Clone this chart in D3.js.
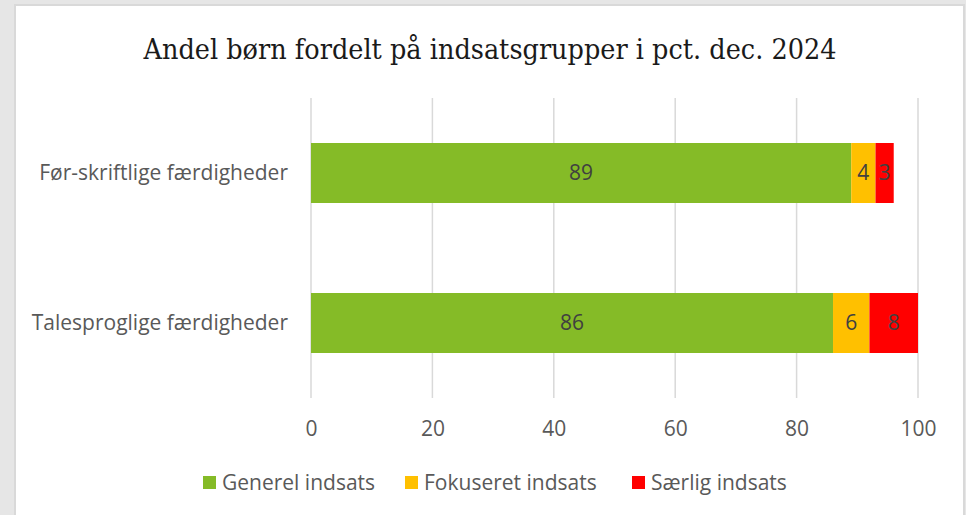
<!DOCTYPE html>
<html>
<head>
<meta charset="utf-8">
<script src="https://cdn.jsdelivr.net/npm/d3@7"></script>
<style>
  body { margin: 0; background: #e6e6e6; }
  svg { display: block; }
</style>
</head>
<body>
<svg id="chart" width="966" height="515"></svg>
<script>
var categories = ["Før-skriftlige færdigheder", "Talesproglige færdigheder"];
var seriesNames = ["Generel indsats", "Fokuseret indsats", "Særlig indsats"];
var seriesColors = ["#85bb27", "#ffc000", "#ff0000"];
var generel = [89, 86];
var fokuseret = [4, 6];
var saerlig = [3, 8];
var xTicks = [0, 20, 40, 60, 80, 100];

var W = 966, H = 515;
var FONT = "Open Sans";
var svg = d3.select("#chart");

// panel with a light border, as in the screenshot
svg.append("rect").attr("x", 14).attr("y", 4).attr("width", 951).attr("height", 520)
  .attr("fill", "#d9d9d9");
svg.append("rect").attr("x", 16).attr("y", 6).attr("width", 947).attr("height", 520)
  .attr("fill", "white");

var margin = {left: 311, right: 48, top: 98, bottom: 117};
var x = d3.scaleLinear().domain([0, 100]).range([margin.left, 918]);
var y = d3.scaleBand().domain(categories).range([margin.top, H - margin.bottom])
  .paddingInner(0.6).paddingOuter(0.3);

var rows = categories.map(function(c, i) {
  return {cat: c, "Generel indsats": generel[i], "Fokuseret indsats": fokuseret[i], "Særlig indsats": saerlig[i]};
});
var stack = d3.stack().keys(seriesNames)(rows);
var color = d3.scaleOrdinal().domain(seriesNames).range(seriesColors);

// title
svg.append("text")
  .attr("x", 490).attr("y", 59)
  .attr("text-anchor", "middle")
  .attr("font-family", "DejaVu Serif")
  .attr("font-size", 28)
  .attr("textLength", 693)
  .attr("lengthAdjust", "spacingAndGlyphs")
  .attr("fill", "#1a1a1a")
  .text("Andel børn fordelt på indsatsgrupper i pct. dec. 2024");

// gridlines
svg.append("g").selectAll("line").data(xTicks).enter().append("line")
  .attr("x1", function(d) { return x(d); })
  .attr("x2", function(d) { return x(d); })
  .attr("y1", margin.top).attr("y2", H - margin.bottom)
  .attr("stroke", "#d9d9d9").attr("stroke-width", 1.5);

// x tick labels
var xAxis = d3.axisBottom(x).tickValues(xTicks).tickSize(0).tickPadding(0);
var gx = svg.append("g").attr("transform", "translate(0," + 421 + ")").call(xAxis);
gx.select(".domain").remove();
gx.selectAll("text")
  .attr("font-family", FONT).attr("font-size", 21).attr("fill", "#595959");

// category labels
var yAxis = d3.axisLeft(y).tickSize(0).tickPadding(23);
var gy = svg.append("g").attr("transform", "translate(" + margin.left + ",0)").call(yAxis);
gy.select(".domain").remove();
gy.selectAll("text")
  .attr("font-family", FONT).attr("font-size", 21).attr("fill", "#595959");

// bars
var layers = svg.append("g").selectAll("g").data(stack).enter().append("g")
  .attr("fill", function(d) { return color(d.key); });

layers.selectAll("rect").data(function(d) { return d; }).enter().append("rect")
  .attr("x", function(d) { return x(d[0]); })
  .attr("width", function(d) { return x(d[1]) - x(d[0]); })
  .attr("y", function(d) { return y(d.data.cat); })
  .attr("height", y.bandwidth());

// value labels
layers.selectAll("text").data(function(d) { return d; }).enter().append("text")
  .attr("x", function(d) { return (x(d[0]) + x(d[1])) / 2; })
  .attr("y", function(d) { return y(d.data.cat) + y.bandwidth() / 2; })
  .attr("dy", "0.35em")
  .attr("text-anchor", "middle")
  .attr("font-family", FONT).attr("font-size", 21)
  .attr("fill", "#404040")
  .text(function(d) { return d[1] - d[0]; });

// legend
var legendX = [203, 405, 632];
var legend = svg.append("g").selectAll("g").data(seriesNames).enter().append("g")
  .attr("transform", function(d, i) { return "translate(" + legendX[i] + ",476)"; });
legend.append("rect").attr("width", 13).attr("height", 13)
  .attr("fill", function(d) { return color(d); });
legend.append("text").attr("x", 19).attr("y", 7).attr("dy", "0.35em")
  .attr("font-family", FONT).attr("font-size", 21).attr("fill", "#595959")
  .text(function(d) { return d; });
</script>
</body>
</html>
